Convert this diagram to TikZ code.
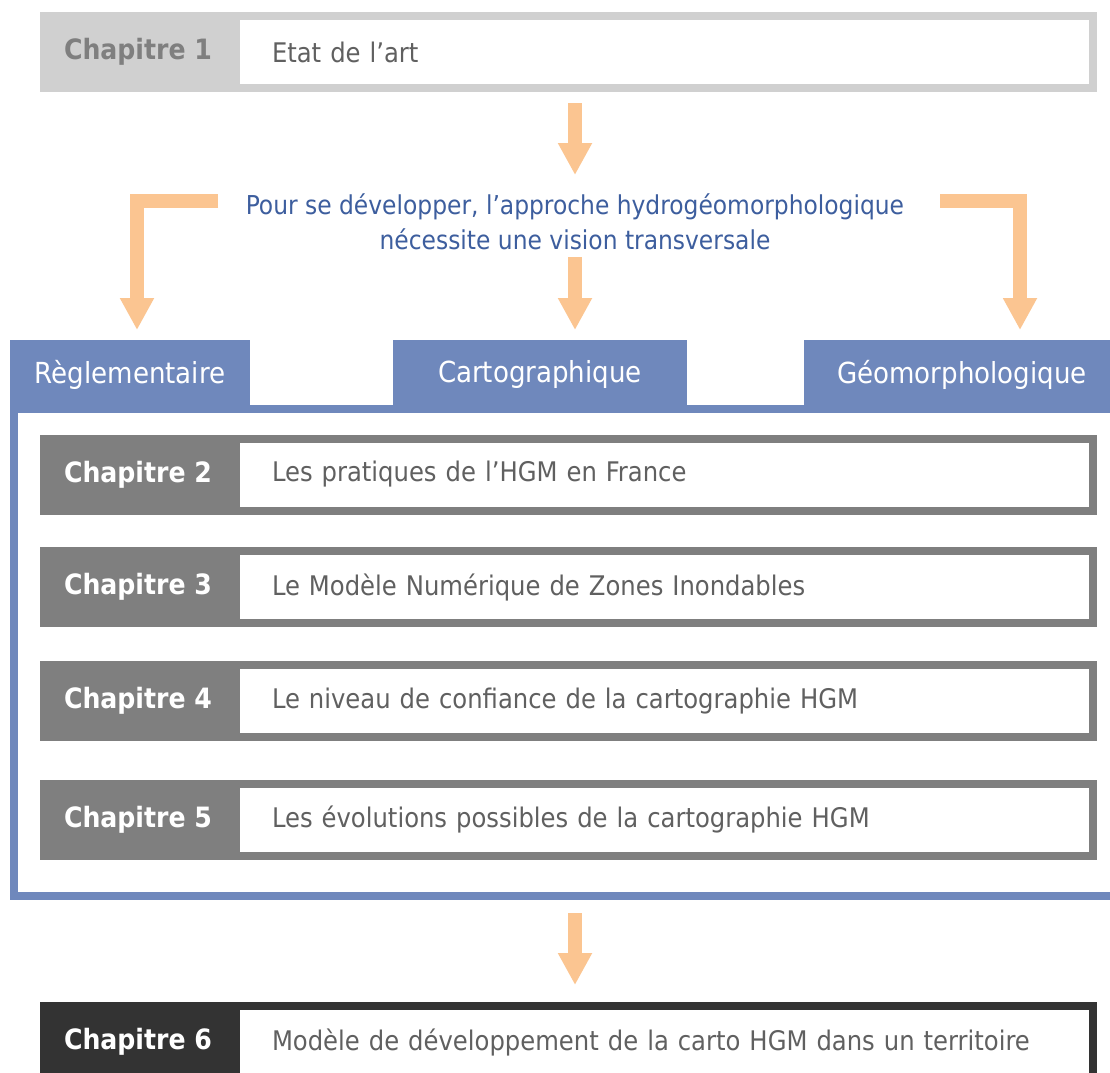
\documentclass[tikz,border=0pt]{standalone}
\usepackage{fontspec}
\setmainfont{DejaVu Sans Condensed}
\usepackage{tikz}
\usetikzlibrary{positioning,arrows.meta}

\definecolor{chapgrey}{HTML}{D0D0D0}
\definecolor{labgrey}{HTML}{7F7F7F}
\definecolor{midgrey}{HTML}{7F7F7F}
\definecolor{darkgrey}{HTML}{333333}
\definecolor{bodygrey}{HTML}{606060}
\definecolor{tabblue}{HTML}{6F88BC}
\definecolor{textblue}{HTML}{3D5E9E}
\definecolor{peach}{HTML}{FBC591}

\tikzset{
  chaplab/.style={rectangle, minimum width=196pt, minimum height=80pt, inner sep=0pt, outer sep=0pt,
    text=white, font=\fontsize{28}{32}\selectfont\bfseries},
  chapbody/.style={rectangle, line width=8pt, fill=white, minimum width=857pt, minimum height=72pt,
    text width=785pt, inner xsep=36pt, inner ysep=0pt, outer sep=0pt, align=left,
    text=bodygrey, font=\fontsize{27}{32}\selectfont},
  tab/.style={rectangle, fill=tabblue, minimum height=69pt, inner sep=0pt, outer sep=0pt,
    text=white, font=\fontsize{29}{32}\selectfont},
  intro/.style={align=center, minimum height=70pt, inner sep=0pt, outer sep=0pt,
    text=textblue, font=\fontsize{26}{35}\selectfont},
  fatarrow/.style={draw=peach, line width=14pt, line join=miter, -{Triangle[width=32pt,length=32pt]}}
}

\begin{document}
\begin{tikzpicture}[x=1pt,y=-1pt]
  \clip (0,0) rectangle (1110,1072);
  \fill[white] (0,0) rectangle (1110,1072);

  % chapitre 1
  \node[chaplab, fill=chapgrey, text=labgrey] (c1lab) at (138,52) {Chapitre 1};
  \node[chapbody, draw=chapgrey] (c1) [right=0pt of c1lab] {Etat de l'art};

  \node[intro] (intro) at (575,222) {Pour se développer, l'approche hydrogéomorphologique\\nécessite une vision transversale};

  % onglets
  \node[tab, minimum width=240pt] (regl) at (130,374.5) {Règlementaire};
  \node[tab, minimum width=294pt] (carto) at (540,374.5) {Cartographique};
  \node[tab, minimum width=316pt] (geo) at (962,374.5) {Géomorphologique};
  \node[draw=tabblue, line width=8pt, minimum width=1116pt, minimum height=487pt, outer sep=0pt] (frame) at (572,652.5) {};

  % chapitres 2 a 5
  \node[chaplab, fill=midgrey] (c2lab) at (138,474.5) {Chapitre 2};
  \node[chapbody, draw=midgrey] (c2) [right=0pt of c2lab] {Les pratiques de l'HGM en France};
  \node[chaplab, fill=midgrey] (c3lab) at (138,587) {Chapitre 3};
  \node[chapbody, draw=midgrey] (c3) [right=0pt of c3lab] {Le Modèle Numérique de Zones Inondables};
  \node[chaplab, fill=midgrey] (c4lab) at (138,701) {Chapitre 4};
  \node[chapbody, draw=midgrey] (c4) [right=0pt of c4lab] {Le niveau de confiance de la cartographie HGM};
  \node[chaplab, fill=midgrey] (c5lab) at (138,819.5) {Chapitre 5};
  \node[chapbody, draw=midgrey] (c5) [right=0pt of c5lab] {Les évolutions possibles de la cartographie HGM};

  % chapitre 6
  \node[chaplab, fill=darkgrey] (c6lab) at (138,1042) {Chapitre 6};
  \node[chapbody, draw=darkgrey] (c6) [right=0pt of c6lab] {Modèle de développement de la carto HGM dans un territoire};

  % fleches
  \coordinate (lstart) at (218,200.5);
  \coordinate (rstart) at (940,201);
  \draw[fatarrow, shorten <=11pt, shorten >=12pt] (c1lab.south -| intro.north) -- (intro.north);
  \draw[fatarrow, shorten >=10pt] (intro.south) -- (intro.south |- carto.north);
  \draw[fatarrow, shorten >=10pt] (lstart) -| ([xshift=7pt]regl.north);
  \draw[fatarrow, shorten >=10pt] (rstart) -| ([xshift=58pt]geo.north);
  \draw[fatarrow, shorten <=17pt, shorten >=17pt] (frame.south -| intro.south) -- (c6lab.north -| intro.south);
\end{tikzpicture}
\end{document}
